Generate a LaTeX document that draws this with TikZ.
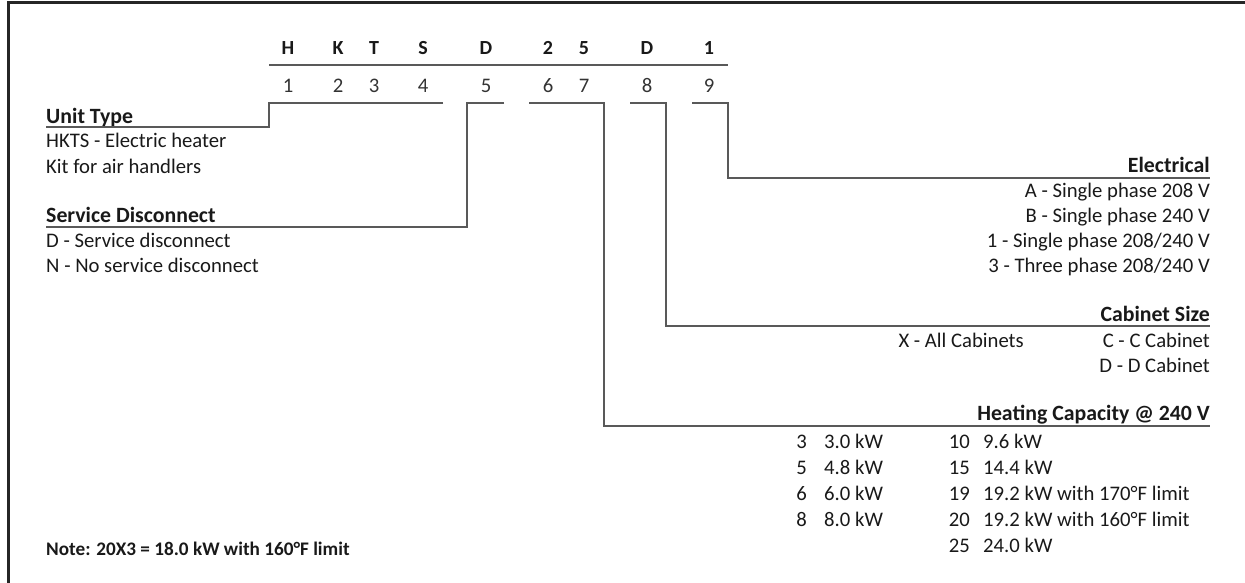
\documentclass[tikz,border=0pt]{standalone}
\usepackage{fontspec}
\setmainfont{Carlito}
\begin{document}
\begin{tikzpicture}[x=1pt,y=-1pt,
  body/.style={inner sep=0pt, text=black!90, font=\fontsize{20.7}{25}\selectfont},
  head/.style={inner sep=0pt, text=black!90, font=\fontsize{21.8}{25}\selectfont\bfseries},
  code/.style={inner sep=0pt, anchor=base, text=black!90, font=\fontsize{20}{25}\selectfont\bfseries},
  digit/.style={inner sep=0pt, anchor=base, text=black!80, font=\fontsize{20.7}{25}\selectfont},
  note/.style={inner sep=0pt, text=black!90, font=\fontsize{19.2}{22}\selectfont\bfseries},
  conn/.style={draw=black!65, line width=1.5pt},
  frame/.style={draw=black!85, line width=2.5pt}]
\useasboundingbox (0,0) rectangle (1245,583);
% frame (top and left edges)
\coordinate (fr-tr) at (1245,2.5);
\coordinate (fr-tl) at (8.5,2.5);
\coordinate (fr-bl) at (8.5,583);
\draw[frame] (fr-tr) -- (fr-tl) -- (fr-bl);
% code letters
\node[code] (cH) at (288,55) {H};
\node[code] (cK) at (338,55) {K};
\node[code] (cT) at (374,55) {T};
\node[code] (cS) at (423,55) {S};
\node[code] (cD) at (486,55) {D};
\node[code] (c2) at (548,55) {2};
\node[code] (c5) at (584,55) {5};
\node[code] (cD2) at (647,55) {D};
\node[code] (c1) at (709,55) {1};
\coordinate (ul-a) at (269,65);
\coordinate (ul-b) at (728,65);
\draw[conn] (ul-a) -- (ul-b);
% digits
\node[digit] (d1) at (288,93) {1};
\node[digit] (d2) at (338,93) {2};
\node[digit] (d3) at (374,93) {3};
\node[digit] (d4) at (423,93) {4};
\node[digit] (d5) at (486,93) {5};
\node[digit] (d6) at (548,93) {6};
\node[digit] (d7) at (584,93) {7};
\node[digit] (d8) at (647,93) {8};
\node[digit] (d9) at (709,93) {9};
% left texts
\node[head, anchor=base west] (ut) at (46,124) {Unit Type};
\node[body, anchor=base west] (ut1) at (46,148) {HKTS - Electric heater};
\node[body, anchor=base west] (ut2) at (46,173) {Kit for air handlers};
\node[head, anchor=base west] (sd) at (46,222) {Service Disconnect};
\node[body, anchor=base west] (sd1) at (46,247) {D - Service disconnect};
\node[body, anchor=base west] (sd2) at (46,272) {N - No service disconnect};
\node[note, anchor=base west] (nt) at (46,555) {Note: 20X3 = 18.0 kW with 160°F limit};
% right texts
\node[head, anchor=base east] (el) at (1210,172) {Electrical};
\node[body, anchor=base east] (el1) at (1210,197) {A - Single phase 208 V};
\node[body, anchor=base east] (el2) at (1210,222) {B - Single phase 240 V};
\node[body, anchor=base east] (el3) at (1210,247) {1 - Single phase 208/240 V};
\node[body, anchor=base east] (el4) at (1210,272) {3 - Three phase 208/240 V};
\node[head, anchor=base east] (cs) at (1210,321) {Cabinet Size};
\node[body, anchor=base east] (csx) at (1024,347) {X - All Cabinets};
\node[body, anchor=base east] (cs1) at (1210,347) {C - C Cabinet};
\node[body, anchor=base east] (cs2) at (1210,372) {D - D Cabinet};
\node[head, anchor=base east] (hc) at (1210,420) {Heating Capacity @ 240 V};
% heating table
\foreach \n/\v/\b [count=\i] in {3/3.0 kW/448, 5/4.8 kW/474, 6/6.0 kW/500, 8/8.0 kW/526}{
  \node[body, anchor=base east] (hn\i) at (807,\b) {\n};
  \node[body, anchor=base west] (hv\i) at (824,\b) {\v};
}
\foreach \n/\v/\b [count=\i] in {10/9.6 kW/448, 15/14.4 kW/474, 19/19.2 kW with 170°F limit/500, 20/19.2 kW with 160°F limit/526, 25/24.0 kW/552}{
  \node[body, anchor=base east] (hm\i) at (970,\b) {\n};
  \node[body, anchor=base west] (hw\i) at (983,\b) {\v};
}
% connectors
\coordinate (u1) at (443,103); \coordinate (u2) at (269,103);
\coordinate (u3) at (269,127); \coordinate (u4) at (46,127);
\draw[conn] (u1) -- (u2) -- (u3) -- (u4);
\coordinate (s1) at (504,103); \coordinate (s2) at (467,103);
\coordinate (s3) at (467,227); \coordinate (s4) at (46,227);
\draw[conn] (s1) -- (s2) -- (s3) -- (s4);
\coordinate (h1) at (529,103); \coordinate (h2) at (604,103);
\coordinate (h3) at (604,426); \coordinate (h4) at (1210,426);
\draw[conn] (h1) -- (h2) -- (h3) -- (h4);
\coordinate (k1) at (630,103); \coordinate (k2) at (666,103);
\coordinate (k3) at (666,326); \coordinate (k4) at (1210,326);
\draw[conn] (k1) -- (k2) -- (k3) -- (k4);
\coordinate (e1) at (692,103); \coordinate (e2) at (728,103);
\coordinate (e3) at (728,178); \coordinate (e4) at (1210,178);
\draw[conn] (e1) -- (e2) -- (e3) -- (e4);
\end{tikzpicture}
\end{document}
